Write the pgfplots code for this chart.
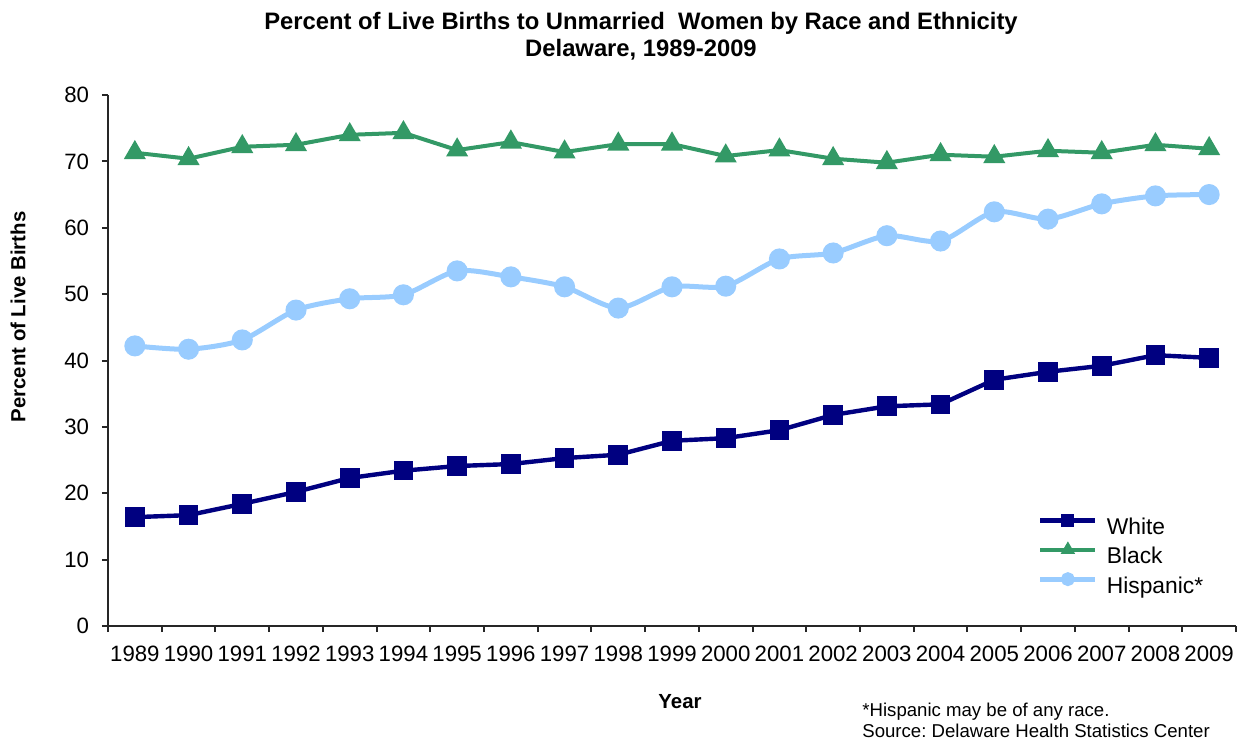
\documentclass[border=0pt]{standalone}
\usepackage{pgfplots}
\pgfplotsset{compat=1.18}
\usepackage{fontspec}
\setmainfont{Liberation Sans}
\frenchspacing
\definecolor{cWhite}{RGB}{0,0,128}
\definecolor{cBlack}{RGB}{51,153,102}
\definecolor{cHisp}{RGB}{153,204,255}
\begin{document}
\begin{tikzpicture}
\useasboundingbox (-54bp,-57.5bp) rectangle (567.5bp,313bp);
\begin{axis}[
  scale only axis,
  width=564bp, height=265.5bp,
  at={(0,0)}, anchor=south west,
  xmin=0, xmax=21, ymin=0, ymax=80,
  axis lines=left,
  axis line style={-, line width=1bp, black!85},
  tick align=outside,
  tick style={line width=1bp, black!85},
  major tick length=3bp,
  xtick={0,...,21},
  x tick label as interval,
  xticklabels={1989,1990,1991,1992,1993,1994,1995,1996,1997,1998,1999,2000,2001,2002,2003,2004,2005,2006,2007,2008,2009},
  ytick={0,10,...,80},
  /pgf/number format/assume math mode=true,
  ticklabel style={font=\fontsize{11.1bp}{13bp}\selectfont},
  xticklabel style={yshift=-3.5bp},
  yticklabel style={xshift=-3bp},
  clip=false,
  legend style={at={(rel axis cs:0.824,0.208)}, anchor=north west, draw=none, fill=none,
    font=\fontsize{11.4bp}{13bp}\selectfont, inner sep=0pt, row sep=3.5bp,
    nodes={inner sep=0pt, text height=8bp, text depth=2bp}},
  legend cell align=left,
  legend image code/.code={\draw[mark repeat=2,mark phase=2,#1,mark size=2.2bp] plot coordinates {(0bp,4bp)(13.75bp,4bp)(27.5bp,4bp)};},
  /tikz/every odd column/.append style={column sep=4.5bp},
]
\addplot[color=cWhite, line width=2.2bp, mark=square*, mark size=3.8bp, mark options={solid}] coordinates {
(0.5,16.4)(1.5,16.7)(2.5,18.4)(3.5,20.2)(4.5,22.3)(5.5,23.4)(6.5,24.1)(7.5,24.4)(8.5,25.3)(9.5,25.8)(10.5,27.9)(11.5,28.3)(12.5,29.5)(13.5,31.8)(14.5,33.1)(15.5,33.4)(16.5,37.1)(17.5,38.3)(18.5,39.2)(19.5,40.8)(20.5,40.4)};
\addlegendentry{White}
\addplot[color=cBlack, line width=2bp, mark=triangle*, mark size=4.4bp] coordinates {
(0.5,71.3)(1.5,70.4)(2.5,72.2)(3.5,72.5)(4.5,74.0)(5.5,74.3)(6.5,71.7)(7.5,72.9)(8.5,71.4)(9.5,72.6)(10.5,72.6)(11.5,70.8)(12.5,71.7)(13.5,70.4)(14.5,69.8)(15.5,71.0)(16.5,70.7)(17.5,71.6)(18.5,71.3)(19.5,72.5)(20.5,71.9)};
\addlegendentry{Black}
\addplot[color=cHisp, line width=2.5bp, mark=*, mark size=4bp, smooth, tension=0.45] coordinates {
(0.5,42.2)(1.5,41.7)(2.5,43.1)(3.5,47.6)(4.5,49.3)(5.5,49.9)(6.5,53.5)(7.5,52.6)(8.5,51.1)(9.5,47.9)(10.5,51.1)(11.5,51.2)(12.5,55.3)(13.5,56.2)(14.5,58.8)(15.5,58.0)(16.5,62.4)(17.5,61.3)(18.5,63.6)(19.5,64.8)(20.5,65.0)};
\addlegendentry{Hispanic*}
\end{axis}
\node[font=\bfseries\fontsize{11.9bp}{14bp}\selectfont] at (266.5bp,301.5bp) {Percent of Live Births to Unmarried\ \ Women by Race and Ethnicity};
\node[font=\bfseries\fontsize{11.9bp}{14bp}\selectfont] at (266.5bp,288bp) {Delaware, 1989-2009};
\node[font=\bfseries\fontsize{10.2bp}{12bp}\selectfont] at (286bp,-38bp) {Year};
\node[font=\bfseries\fontsize{10.2bp}{12bp}\selectfont, rotate=90] at (-45bp,154.5bp) {Percent of Live Births};
\node[font=\fontsize{9.3bp}{11bp}\selectfont, anchor=west, inner sep=0pt] at (377bp,-43bp) {*Hispanic may be of any race.};
\node[font=\fontsize{9.3bp}{11bp}\selectfont, anchor=west, inner sep=0pt] at (377bp,-52.5bp) {Source: Delaware Health Statistics Center};
\end{tikzpicture}
\end{document}
